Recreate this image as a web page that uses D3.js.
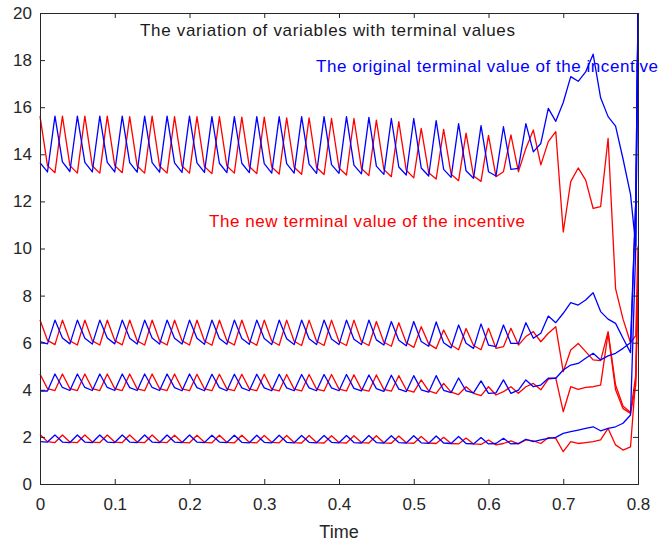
<!DOCTYPE html>
<html>
<head>
<meta charset="utf-8">
<script src="https://cdn.jsdelivr.net/npm/d3@7"></script>
<style>
  body { margin: 0; background: #fff; }
  svg { display: block; font-family: "Liberation Sans", Arial, sans-serif; }
</style>
</head>
<body>
<div id="chart"></div>
<script>
// time grid (last two points are the terminal jump)
const time = [
  0.00, 0.01, 0.02, 0.03, 0.04, 0.05, 0.06, 0.07, 0.08, 0.09,
  0.10, 0.11, 0.12, 0.13, 0.14, 0.15, 0.16, 0.17, 0.18, 0.19,
  0.20, 0.21, 0.22, 0.23, 0.24, 0.25, 0.26, 0.27, 0.28, 0.29,
  0.30, 0.31, 0.32, 0.33, 0.34, 0.35, 0.36, 0.37, 0.38, 0.39,
  0.40, 0.41, 0.42, 0.43, 0.44, 0.45, 0.46, 0.47, 0.48, 0.49,
  0.50, 0.51, 0.52, 0.53, 0.54, 0.55, 0.56, 0.57, 0.58, 0.59,
  0.60, 0.61, 0.62, 0.63, 0.64, 0.65, 0.66, 0.67, 0.68, 0.69,
  0.70, 0.71, 0.72, 0.73, 0.74, 0.75, 0.76, 0.77, 0.78, 0.79,
  0.797, 0.80
];

// original terminal value (blue)
const blueTop = [
  13.65, 13.25, 15.62, 13.68, 13.27, 15.62, 13.66, 13.25, 15.62,
  13.66, 13.25, 15.62, 13.65, 13.24, 15.62, 13.65, 13.24, 15.62,
  13.64, 13.23, 15.62, 13.64, 13.23, 15.60, 13.62, 13.22, 15.60,
  13.62, 13.22, 15.60, 13.60, 13.20, 15.60, 13.60, 13.20, 15.60,
  13.58, 13.19, 15.60, 13.56, 13.19, 15.60, 13.54, 13.17, 15.57,
  13.50, 13.15, 15.52, 13.46, 13.12, 15.52, 13.42, 13.08, 15.43,
  13.36, 13.02, 15.30, 13.30, 12.98, 15.22, 13.26, 13.08, 15.17,
  13.36, 13.40, 15.30,
  14.10, 14.46, 15.95, 15.40,
  16.20, 17.30, 17.10, 17.50, 18.25, 16.40, 15.60, 15.20, 13.80, 12.30,
  10.10, 20.00
];
const blueSix = [
  6.05, 5.95, 6.96, 6.20, 5.95, 6.96, 6.19, 5.94, 6.96,
  6.20, 5.95, 6.96, 6.19, 5.94, 6.96, 6.20, 5.94, 6.96,
  6.19, 5.94, 6.96, 6.19, 5.93, 6.96, 6.18, 5.93, 6.96,
  6.18, 5.93, 6.96, 6.18, 5.92, 6.96, 6.17, 5.92, 6.96,
  6.17, 5.92, 6.96, 6.16, 5.92, 6.96, 6.15, 5.92, 6.96,
  6.12, 5.90, 6.90, 6.10, 5.87, 6.90, 6.05, 5.85, 6.88,
  6.00, 5.78, 6.75, 5.98, 5.76, 6.80, 5.90, 5.83, 6.75,
  5.97, 5.97, 6.85,
  6.19, 6.40, 7.13, 6.85,
  7.25, 7.70, 7.60, 7.81, 8.12, 7.32, 7.00, 6.82, 6.19, 5.58,
  12.00, 20.00
];
const blueFour = [
  3.95, 3.95, 4.67, 4.10, 3.97, 4.67, 4.10, 3.97, 4.67,
  4.10, 3.97, 4.67, 4.09, 3.97, 4.67, 4.10, 3.97, 4.67,
  4.09, 3.96, 4.67, 4.09, 3.96, 4.66, 4.09, 3.96, 4.66,
  4.08, 3.96, 4.66, 4.08, 3.96, 4.66, 4.08, 3.96, 4.65,
  4.08, 3.96, 4.65, 4.08, 3.96, 4.65, 4.06, 3.95, 4.63,
  4.05, 3.93, 4.62, 4.03, 3.92, 4.60, 4.00, 3.90, 4.60,
  3.98, 3.88, 4.50, 3.95, 3.87, 4.38, 3.85, 3.87, 4.42,
  3.85, 3.99, 4.42,
  4.13, 4.20, 4.49, 4.49,
  4.84, 5.05, 5.12, 5.34, 5.55, 5.27, 5.44, 5.55, 5.76, 6.00,
  12.00, 20.00
];
const blueTwo = [
  1.80, 1.78, 2.08, 1.78, 1.76, 2.08, 1.78, 1.76, 2.08,
  1.78, 1.76, 2.08, 1.78, 1.76, 2.08, 1.78, 1.76, 2.08,
  1.78, 1.76, 2.08, 1.78, 1.76, 2.07, 1.78, 1.76, 2.07,
  1.77, 1.75, 2.07, 1.77, 1.75, 2.07, 1.77, 1.75, 2.06,
  1.77, 1.75, 2.06, 1.77, 1.75, 2.06, 1.76, 1.74, 2.06,
  1.76, 1.74, 2.05, 1.76, 1.74, 2.05, 1.75, 1.73, 2.04,
  1.74, 1.72, 2.02, 1.72, 1.70, 1.97, 1.70, 1.72, 1.94,
  1.70, 1.72, 1.90,
  1.80, 1.87, 1.94, 1.98,
  2.15, 2.22, 2.29, 2.36, 2.43, 2.26, 2.36, 2.43, 2.58, 2.93,
  10.00, 20.00
];

// new terminal value (red)
const redTop = [
  15.62, 13.52, 13.22, 15.62, 13.52, 13.20, 15.62, 13.50, 13.20,
  15.62, 13.52, 13.22, 15.60, 13.50, 13.20, 15.62, 13.50, 13.20,
  15.60, 13.50, 13.20, 15.60, 13.48, 13.18, 15.60, 13.50, 13.20,
  15.58, 13.48, 13.18, 15.58, 13.46, 13.16, 15.55, 13.45, 13.15,
  15.55, 13.44, 13.14, 15.52, 13.42, 13.12, 15.52, 13.40, 13.10,
  15.45, 13.36, 13.05, 15.39, 13.32, 13.00, 15.10, 13.22, 12.95,
  15.06, 13.15, 12.88, 14.90, 13.08, 12.85, 14.80, 13.05, 13.26,
  14.82, 13.26, 14.25,
  15.03, 13.55, 14.54, 14.96,
  10.70, 12.84, 13.42, 12.90, 11.70, 11.78, 14.68, 8.30, 7.00, 6.00,
  6.30, 10.10
];
const redSix = [
  6.96, 6.10, 5.92, 6.96, 6.08, 5.90, 6.96, 6.08, 5.90,
  6.96, 6.09, 5.91, 6.96, 6.08, 5.90, 6.96, 6.08, 5.90,
  6.96, 6.08, 5.90, 6.96, 6.07, 5.89, 6.96, 6.08, 5.90,
  6.96, 6.07, 5.89, 6.96, 6.07, 5.89, 6.96, 6.06, 5.88,
  6.96, 6.06, 5.88, 6.96, 6.05, 5.88, 6.96, 6.05, 5.88,
  6.90, 6.02, 5.85, 6.85, 6.00, 5.80, 6.68, 5.95, 5.75,
  6.54, 5.90, 5.70, 6.60, 5.88, 5.70, 6.61, 5.76, 5.83,
  6.61, 5.90, 6.26,
  6.47, 6.04, 6.40, 6.68,
  4.77, 5.69, 5.97, 5.62, 5.27, 5.24, 6.47, 4.20, 3.30, 3.05,
  4.60, 9.00
];
const redFour = [
  4.67, 4.05, 3.97, 4.67, 4.05, 3.97, 4.67, 4.05, 3.97,
  4.67, 4.05, 3.97, 4.67, 4.04, 3.96, 4.67, 4.05, 3.97,
  4.67, 4.04, 3.96, 4.66, 4.04, 3.96, 4.66, 4.04, 3.96,
  4.66, 4.04, 3.96, 4.66, 4.03, 3.95, 4.65, 4.03, 3.95,
  4.65, 4.03, 3.95, 4.65, 4.03, 3.95, 4.64, 4.02, 3.94,
  4.63, 4.02, 3.94, 4.60, 4.00, 3.90, 4.42, 3.95, 3.85,
  4.27, 3.90, 3.80, 4.13, 3.85, 3.75, 4.13, 3.78, 3.92,
  4.13, 3.85, 4.13,
  4.27, 4.00, 4.45, 4.50,
  3.07, 4.13, 4.02, 4.10, 4.13, 4.20, 6.40, 4.00, 3.20, 3.00,
  4.20, 8.00
];
const redTwo = [
  2.10, 1.80, 1.76, 2.08, 1.78, 1.76, 2.08, 1.78, 1.76,
  2.08, 1.78, 1.76, 2.08, 1.78, 1.76, 2.08, 1.78, 1.76,
  2.07, 1.77, 1.75, 2.07, 1.77, 1.75, 2.07, 1.77, 1.75,
  2.07, 1.77, 1.75, 2.06, 1.77, 1.75, 2.06, 1.76, 1.74,
  2.06, 1.76, 1.74, 2.05, 1.76, 1.74, 2.05, 1.76, 1.74,
  2.05, 1.75, 1.73, 2.04, 1.75, 1.73, 2.02, 1.74, 1.72,
  1.98, 1.72, 1.70, 1.95, 1.70, 1.68, 1.87, 1.66, 1.72,
  1.83, 1.70, 1.87,
  1.83, 1.72, 1.97, 1.94,
  1.37, 1.80, 1.72, 1.76, 1.80, 1.87, 2.36, 1.66, 1.44, 1.58,
  4.50, 9.00
];

const xTicks = [0, 0.1, 0.2, 0.3, 0.4, 0.5, 0.6, 0.7, 0.8];
const yTicks = [0, 2, 4, 6, 8, 10, 12, 14, 16, 18, 20];

const titleText = "The variation of variables with terminal values";
const blueLabel = "The original terminal value of the incentive";
const redLabel = "The new terminal value of the incentive";
const xLabel = "Time";

const W = 659, H = 544;
const margin = { top: 13, right: 21, bottom: 60, left: 40 };
const width = W - margin.left - margin.right;
const height = H - margin.top - margin.bottom;
const axisColor = "#262626";

const svg = d3.select("#chart").append("svg")
  .attr("width", W)
  .attr("height", H);

const g = svg.append("g")
  .attr("transform", "translate(" + margin.left + "," + margin.top + ")");

const x = d3.scaleLinear().domain([0, 0.8]).range([0, width]);
const y = d3.scaleLinear().domain([0, 20]).range([height, 0]);

const line = d3.line()
  .x((d, i) => x(time[i]))
  .y(d => y(d));

// red first, blue over it
[redTop, redSix, redFour, redTwo].forEach(s => {
  g.append("path").datum(s)
    .attr("fill", "none")
    .attr("stroke", "#ff0000")
    .attr("stroke-width", 1.3)
    .attr("stroke-linejoin", "round")
    .attr("d", line);
});
[blueTop, blueSix, blueFour, blueTwo].forEach(s => {
  g.append("path").datum(s)
    .attr("fill", "none")
    .attr("stroke", "#0000ff")
    .attr("stroke-width", 1.3)
    .attr("stroke-linejoin", "round")
    .attr("d", line);
});

// axes, box style with inward ticks
const fmt = d3.format("~g");
function styleAxis(sel, showText) {
  sel.select(".domain").attr("stroke", axisColor);
  sel.selectAll(".tick line").attr("stroke", axisColor);
  sel.selectAll(".tick text")
    .attr("fill", axisColor)
    .style("font-size", "17px")
    .style("font-family", '"Liberation Sans", Arial, sans-serif');
  if (!showText) sel.selectAll(".tick text").remove();
}

g.append("g")
  .attr("transform", "translate(0," + height + ")")
  .call(d3.axisBottom(x).tickValues(xTicks).tickFormat(fmt).tickSize(-5).tickPadding(14))
  .call(s => styleAxis(s, true));

g.append("g")
  .call(d3.axisTop(x).tickValues(xTicks).tickSize(-5))
  .call(s => styleAxis(s, false));

g.append("g")
  .call(d3.axisLeft(y).tickValues(yTicks).tickFormat(fmt).tickSize(-5).tickPadding(8))
  .call(s => styleAxis(s, true));

g.append("g")
  .attr("transform", "translate(" + width + ",0)")
  .call(d3.axisRight(y).tickValues(yTicks).tickSize(-5))
  .call(s => styleAxis(s, false));

// texts
svg.append("text")
  .attr("x", 140).attr("y", 36)
  .attr("textLength", 375).attr("lengthAdjust", "spacing")
  .style("font-size", "17px").attr("fill", "#1a1a1a")
  .text(titleText);

svg.append("text")
  .attr("x", 316).attr("y", 71.5)
  .attr("textLength", 342).attr("lengthAdjust", "spacing")
  .style("font-size", "17px").attr("fill", "#0000ff")
  .text(blueLabel);

svg.append("text")
  .attr("x", 209).attr("y", 226.5)
  .attr("textLength", 316).attr("lengthAdjust", "spacing")
  .style("font-size", "17px").attr("fill", "#ff0000")
  .text(redLabel);

svg.append("text")
  .attr("x", margin.left + width / 2).attr("y", 538)
  .attr("text-anchor", "middle")
  .style("font-size", "18px").attr("fill", axisColor)
  .text(xLabel);
</script>
</body>
</html>
